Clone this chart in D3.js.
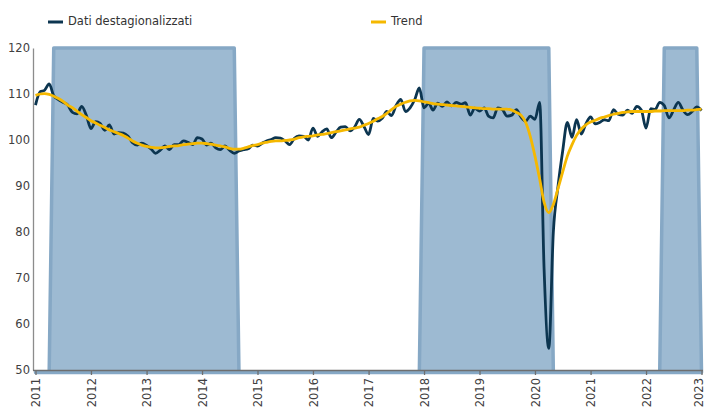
<!DOCTYPE html>
<html>
<head>
<meta charset="utf-8">
<script src="https://cdn.jsdelivr.net/npm/d3@7"></script>
<style>
  body { margin: 0; background: #fff; }
  svg { display: block; font-family: "DejaVu Sans", Verdana, sans-serif; }
</style>
</head>
<body>
<div id="chart"></div>
<script>
// monthly series, Jan 2011 .. Jan 2023
var startYear = 2011;
var dati = [
  107.6, 110.5, 110.8, 112.2, 109.6, 108.8, 108.2, 107.6, 106.0, 105.7, 107.3, 105.4,
  102.5, 104.0, 103.6, 102.1, 103.3, 101.3, 101.6, 101.5, 100.8, 99.4, 98.9, 99.3,
  98.8, 98.0, 97.1, 97.8, 98.7, 97.9, 99.0, 99.0, 99.8, 99.5, 99.0, 100.5,
  100.2, 98.9, 99.3, 98.3, 97.9, 98.7, 97.8, 97.1, 97.6, 97.9, 98.1, 98.9,
  98.7, 99.3, 99.8, 100.1, 100.5, 100.4, 99.8, 99.0, 100.4, 100.9, 100.8, 100.0,
  102.6, 100.8, 101.8, 102.4, 100.5, 101.7, 102.8, 102.9, 102.0, 102.8, 104.5, 103.0,
  101.2, 104.7, 104.1, 104.7, 106.2, 105.3, 107.5, 108.8, 106.2, 107.0, 108.8, 111.3,
  107.0, 108.0, 106.5, 108.0, 107.3, 108.3, 107.4, 108.2, 107.8, 108.1, 105.4, 106.9,
  106.3, 107.0, 105.2, 104.8, 107.0, 106.6, 105.2, 105.4, 106.6, 105.0, 104.1, 105.2,
  104.5, 108.2, 72.0, 54.7, 80.0, 90.0, 97.5, 103.8, 100.6, 104.4, 101.3, 103.5,
  105.0, 103.5, 103.8, 104.4, 104.2, 106.6, 105.6, 105.4, 106.5, 105.8, 107.3, 106.5,
  102.6, 106.8, 106.6, 108.2, 107.5, 104.8, 106.5, 108.2, 106.5, 105.5, 106.2, 107.2,
  106.4
];
var trend = [
  109.7, 110.0, 110.1, 109.9, 109.5, 109.0, 108.4, 107.6, 107.0, 106.3, 105.5, 104.9,
  104.2, 103.7, 103.2, 102.7, 102.2, 101.8, 101.4, 101.0, 100.4, 99.8, 99.3, 98.9,
  98.6, 98.4, 98.3, 98.3, 98.4, 98.6, 98.7, 98.8, 99.0, 99.1, 99.2, 99.3,
  99.3, 99.2, 99.1, 98.9, 98.7, 98.5, 98.2, 98.0, 98.0, 98.2, 98.5, 98.8,
  99.0, 99.3, 99.5, 99.7, 99.8, 99.8, 99.9, 100.0, 100.2, 100.5, 100.7, 100.8,
  100.9, 101.1, 101.2, 101.4, 101.6, 101.8, 102.0, 102.2, 102.4, 102.6, 102.8, 103.2,
  103.6, 104.1, 104.6, 105.1, 105.8, 106.6, 107.3, 107.8, 108.2, 108.5, 108.6, 108.5,
  108.3, 108.1, 107.9, 107.8, 107.7, 107.6, 107.5, 107.4, 107.3, 107.2, 107.1, 107.0,
  106.9, 106.8, 106.8, 106.7, 106.7, 106.7, 106.7, 106.5, 106.0, 105.4, 103.8, 100.8,
  96.5, 91.5, 86.5, 84.2, 86.0, 89.5, 93.0, 96.5, 99.0, 101.0, 102.4, 103.3,
  103.9, 104.3, 104.7, 105.0, 105.3, 105.6, 105.8, 106.0, 106.1, 106.2, 106.2, 106.2,
  106.2, 106.2, 106.3, 106.3, 106.4, 106.4, 106.4, 106.4, 106.4, 106.5, 106.5, 106.6,
  106.7
];
// shaded periods (1 = shaded), same months
var fasi = [
  0, 0, 0, 0, 1, 1, 1, 1, 1, 1, 1, 1,
  1, 1, 1, 1, 1, 1, 1, 1, 1, 1, 1, 1,
  1, 1, 1, 1, 1, 1, 1, 1, 1, 1, 1, 1,
  1, 1, 1, 1, 1, 1, 1, 1, 0, 0, 0, 0,
  0, 0, 0, 0, 0, 0, 0, 0, 0, 0, 0, 0,
  0, 0, 0, 0, 0, 0, 0, 0, 0, 0, 0, 0,
  0, 0, 0, 0, 0, 0, 0, 0, 0, 0, 0, 0,
  1, 1, 1, 1, 1, 1, 1, 1, 1, 1, 1, 1,
  1, 1, 1, 1, 1, 1, 1, 1, 1, 1, 1, 1,
  1, 1, 1, 1, 0, 0, 0, 0, 0, 0, 0, 0,
  0, 0, 0, 0, 0, 0, 0, 0, 0, 0, 0, 0,
  0, 0, 0, 0, 1, 1, 1, 1, 1, 1, 1, 1,
  0
];
var yTicks = [50, 60, 70, 80, 90, 100, 110, 120];
var xYears = [2011, 2012, 2013, 2014, 2015, 2016, 2017, 2018, 2019, 2020, 2021, 2022, 2023];
var legendLabels = ["Dati destagionalizzati", "Trend"];

var width = 705;
var height = 408;

var svg = d3.select("#chart")
    .append("svg")
    .attr("width", width)
    .attr("height", height);

var x = d3.scaleTime()
    .domain([new Date(2011, 0, 1), new Date(2023, 0, 1)])
    .range([35.5, 701.5]);

var y = d3.scaleLinear()
    .domain([50, 120])
    .range([370, 48]);

var monthDate = function(i){ return new Date(startYear, i, 1); };

// shaded areas
var shadeArea = d3.area()
    .x(function(d, i){ return x(monthDate(i)); })
    .y0(y(50) + 2.5)
    .y1(function(d){ return d ? y(120) : y(50) + 2.5; });

svg.append("path")
    .datum(fasi)
    .attr("d", shadeArea)
    .attr("fill", "#9dbad2")
    .attr("stroke", "#86a8c5")
    .attr("stroke-width", 3.5)
    .attr("stroke-linejoin", "round");

// y axis
var yAxis = svg.append("g")
    .attr("transform", "translate(33,0)")
    .call(d3.axisLeft(y).tickValues(yTicks).tickSize(0).tickPadding(3));
yAxis.select(".domain").attr("stroke", "#8c8c8c").attr("stroke-width", 1.3);
yAxis.selectAll("text")
    .attr("fill", "#404040")
    .style("font-size", "11.5px")
    .style("font-family", "DejaVu Sans");

// x axis
var xAxis = svg.append("g")
    .attr("transform", "translate(0,370)")
    .call(d3.axisBottom(x)
        .tickValues(xYears.map(function(yr){ return new Date(yr, 0, 1); }))
        .tickSize(5)
        .tickFormat(d3.timeFormat("%Y")));
xAxis.select(".domain").remove();
xAxis.append("line")
    .attr("x1", 33).attr("x2", 703)
    .attr("y1", 0.5).attr("y2", 0.5)
    .attr("stroke", "#6e6e6e")
    .attr("stroke-width", 1.3);
xAxis.selectAll(".tick line").attr("stroke", "#6e6e6e").attr("stroke-width", 1.3);
xAxis.selectAll(".tick text")
    .attr("transform", "rotate(-90)")
    .attr("x", -8)
    .attr("y", function(d, i){ return i === xYears.length - 1 ? -3 : 0; })
    .attr("dy", "0.36em")
    .attr("text-anchor", "end")
    .attr("fill", "#404040")
    .style("font-size", "11.5px")
    .style("font-family", "DejaVu Sans");

// lines
var line = d3.line()
    .x(function(d, i){ return x(monthDate(i)); })
    .y(function(d){ return y(d); })
    .curve(d3.curveMonotoneX);

svg.append("path")
    .datum(dati)
    .attr("d", line)
    .attr("fill", "none")
    .attr("stroke", "#0c3550")
    .attr("stroke-width", 2.8)
    .attr("stroke-linejoin", "round");

svg.append("path")
    .datum(trend)
    .attr("d", line)
    .attr("fill", "none")
    .attr("stroke", "#f5b800")
    .attr("stroke-width", 2.8)
    .attr("stroke-linejoin", "round");

// legend
var legendColors = ["#0c3550", "#f5b800"];
var legendX = [48, 371];
var legend = svg.selectAll(".legend")
    .data(legendLabels)
    .enter().append("g")
    .attr("class", "legend")
    .attr("transform", function(d, i){ return "translate(" + legendX[i] + ",0)"; });

legend.append("line")
    .attr("x1", 0).attr("x2", 15)
    .attr("y1", 22).attr("y2", 22)
    .attr("stroke", function(d, i){ return legendColors[i]; })
    .attr("stroke-width", 3);

legend.append("text")
    .attr("x", 20)
    .attr("y", 25)
    .attr("fill", "#333")
    .style("font-size", "11.5px")
    .text(function(d){ return d; });
</script>
</body>
</html>
